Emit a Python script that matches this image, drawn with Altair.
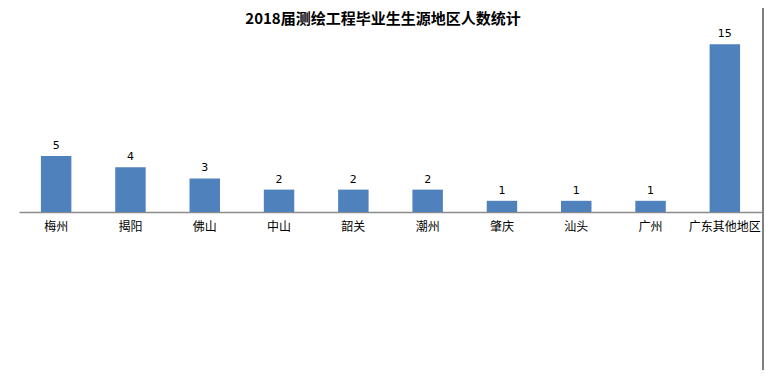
import altair as alt
import pandas as pd

regions = ["梅州", "揭阳", "佛山", "中山", "韶关", "潮州", "肇庆", "汕头", "广州", "广东其他地区"]
counts = [5, 4, 3, 2, 2, 2, 1, 1, 1, 15]
title_text = ["2018届测绘工程毕业生生源地区人数统计"]

df = pd.DataFrame({"region": regions, "count": counts})
tdf = pd.DataFrame({"t": title_text})

x = alt.X("region:N", sort=regions,
          scale=alt.Scale(paddingInner=0.59, paddingOuter=0.295),
          axis=alt.Axis(title=None, labelAngle=0, ticks=False, domainColor="#8c8c8c",
                        domainWidth=1.5, labelPadding=9, labelFontSize=12,
                        labelFont="Noto Sans CJK SC", labelColor="#000000"))
y = alt.Y("count:Q", scale=alt.Scale(domain=[0, 16]), axis=None)

bars = alt.Chart(df).mark_bar(color="#4F81BD").encode(x=x, y=y)
labels = alt.Chart(df).mark_text(dy=-10, fontSize=11, font="DejaVu Sans", color="#000000").encode(
    x=alt.X("region:N", sort=regions), y="count:Q", text="count:Q")
edge = alt.Chart(df).mark_rule(color="#808080", strokeWidth=2).encode(
    x=alt.value(744), y=alt.value(-40), y2=alt.value(400))
title = alt.Chart(tdf).mark_text(fontSize=15, font="Noto Sans CJK SC", fontWeight="bold",
                                 color="#000000", align="center", baseline="middle").encode(
    x=alt.value(364), y=alt.value(-14), text="t:N")

chart = alt.layer(bars, labels, edge, title).properties(
    width=743, height=179,
    autosize=alt.AutoSizeParams(type="none"),
    padding={"left": 11, "top": 25, "right": 2, "bottom": 158}
).configure_view(stroke=None).configure_axis(grid=False)

chart.save("out.html", embed_options={"renderer": "svg", "actions": False})
